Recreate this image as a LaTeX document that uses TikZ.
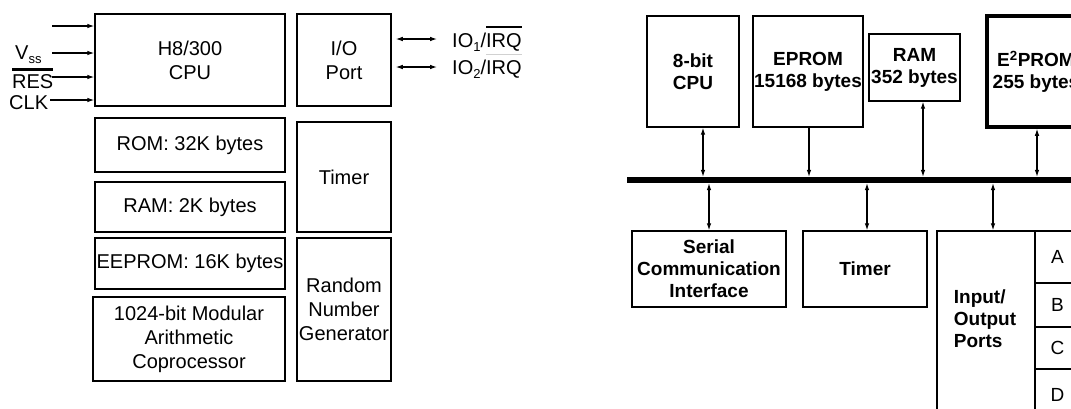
\documentclass[tikz,border=0pt]{standalone}
\usepackage{fontspec}
\setmainfont{Liberation Sans}
\usetikzlibrary{arrows.meta}

% text sizes for the two block diagrams
\newcommand\lfont{\fontsize{20}{24}\selectfont}
\newcommand\rfont{\fontsize{19}{22}\selectfont\bfseries}
\newcommand\cellfont{\fontsize{19}{22}\selectfont}
% overlined signal names: bar thickness, gap, text
\newcommand\ovbar[3]{\vbox{\offinterlineskip\hrule height #1\kern #2\hbox{#3}}}
\newcommand\faintbar[1]{\setbox0=\hbox{#1}\vbox{\offinterlineskip\hbox{\textcolor{black!18}{\rule{\wd0}{0.8pt}}}\kern5pt\box0}}
\newcommand\subsc[1]{\raisebox{-4.5pt}{\fontsize{13}{13}\selectfont #1}}

\tikzset{
  lbox/.style={draw, line width=1.5pt, rectangle, inner sep=0pt, align=center, font=\lfont},
  rbox/.style={draw, line width=1.4pt, rectangle, inner sep=0pt, align=center, font=\rfont},
  cell/.style={draw, line width=1.4pt, rectangle, inner sep=0pt, font=\cellfont},
  lbl/.style={inner sep=0pt, font=\lfont},
  tip/.style={Latex[length=7pt,width=4.6pt]},
  arr/.style={line width=1.1pt, -{Latex[length=7pt,width=4.6pt]}},
  darr/.style={line width=1.1pt, {Latex[length=7pt,width=4.6pt]}-{Latex[length=7pt,width=4.6pt]}},
}

\begin{document}
\begin{tikzpicture}[x=1pt,y=-1pt]
\useasboundingbox (0,0) rectangle (1071,408);
\clip (0,0) rectangle (1071,408);

% ---------------- H8/300 chip ----------------
\node[lbox, minimum width=190, minimum height=92] (cpu) at (190,60) {H8/300\\CPU};
\node[lbox, minimum width=94, minimum height=92] (io) at (344,60) {I/O\\Port};
\node[lbox, minimum width=190, minimum height=54] (rom) at (190,145) {ROM: 32K bytes};
\node[lbox, minimum width=190, minimum height=50] (ram) at (190,207) {RAM: 2K bytes};
\node[lbox, minimum width=190, minimum height=51] (eeprom) at (190,263.5) {EEPROM: 16K bytes};
\node[lbox, minimum width=192, minimum height=84] (copro) at (189,339) {1024-bit Modular\\Arithmetic\\Coprocessor};
\node[lbox, minimum width=94, minimum height=110] (timerl) at (344,177) {Timer};
\node[lbox, minimum width=94, minimum height=143] (rng) at (344,309.5) {Random\\Number\\Generator};

% input signals of the CPU
\node[lbl, anchor=base west] (vss) at (15,59) {V\subsc{ss}};
\node[lbl, anchor=base west] (res) at (12,88) {\ovbar{3pt}{2.6pt}{RES}};
\node[lbl, anchor=base west] (clk) at (9,109) {CLK};
\coordinate (in1) at (52,26);
\coordinate (in2) at (52,53);
\coordinate (in3) at (52,77);
\coordinate (in4) at (50,100);
\foreach \c in {in1,in2,in3,in4} \draw[arr] (\c) -- (\c -| cpu.west);

% port signals
\node[lbl, anchor=base west] (io1) at (452,47) {IO\subsc{1}/\ovbar{2pt}{5pt}{IRQ}};
\node[lbl, anchor=base west] (io2) at (452,74) {IO\subsc{2}/\faintbar{IRQ}};
\coordinate (q1) at (437,39);
\coordinate (q2) at (437,67);
\draw[darr] ([xshift=4]io.east |- q1) -- (q1);
\draw[darr] ([xshift=4]io.east |- q2) -- (q2);

% ---------------- 8-bit microcontroller ----------------
\node[rbox, minimum width=92, minimum height=111] (cpu8) at (693,71.5) {8-bit\\CPU};
\node[rbox, minimum width=110, minimum height=111] (eprom) at (808,71.5) {EPROM\\15168 bytes};
\node[rbox, minimum width=91, minimum height=67] (ramr) at (914.5,67.5) {RAM\\352 bytes};
\node[rbox, line width=3.5pt, minimum width=98, minimum height=111] (e2prom) at (1036,71.5) {E\textsuperscript{2}PROM\\255 bytes};

\node[fill=black, inner sep=0pt, minimum width=460, minimum height=6, anchor=west] (bus) at (627,180) {};

\node[rbox, minimum width=154, minimum height=76] (sci) at (709,269) {Serial\\Communication\\Interface};
\node[rbox, minimum width=124, minimum height=76] (timerr) at (865,269) {Timer};
\node[rbox, minimum width=98, minimum height=190] (ports) at (986,326) {};
\node[inner sep=0pt, align=left, font=\rfont] (portstext) at (985,319) {Input/\\Output\\Ports};
\node[cell, minimum width=45, minimum height=52] (pa) at (1057.5,257) {A};
\node[cell, minimum width=45, minimum height=44] (pb) at (1057.5,305) {B};
\node[cell, minimum width=45, minimum height=42] (pc) at (1057.5,348) {C};
\node[cell, minimum width=45, minimum height=52] (pd) at (1057.5,395) {D};

% bus connections
\draw[darr] ([xshift=10]cpu8.south) -- ([xshift=10]cpu8.south |- bus.north);
\draw[arr] ([xshift=1]eprom.south) -- ([xshift=1]eprom.south |- bus.north);
\draw[darr] ([xshift=8.5]ramr.south) -- ([xshift=8.5]ramr.south |- bus.north);
\draw[darr] ([xshift=1]e2prom.south) -- ([xshift=1]e2prom.south |- bus.north);
\draw[darr] (sci.north |- bus.south) -- (sci.north);
\draw[darr] ([xshift=2]timerr.north |- bus.south) -- ([xshift=2]timerr.north);
\draw[darr] ([xshift=7]ports.north |- bus.south) -- ([xshift=7]ports.north);
\end{tikzpicture}
\end{document}
